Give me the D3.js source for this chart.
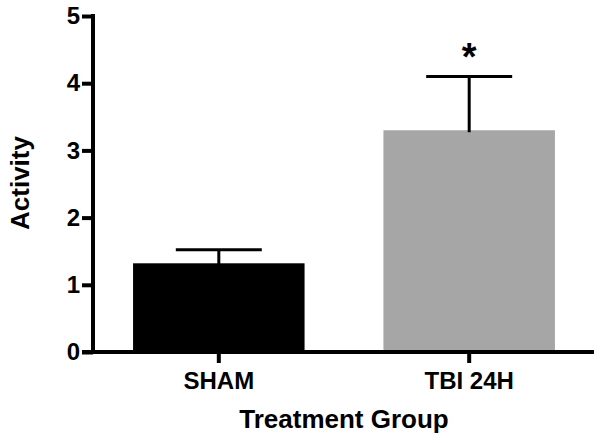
<!DOCTYPE html>
<html>
<head>
<meta charset="utf-8">
<script src="https://cdn.jsdelivr.net/npm/d3@7"></script>
<style>
	body { margin: 0; background: #fff; }
	svg text { font-family: "Liberation Sans", Arial, sans-serif; font-weight: bold; fill: #000; }
</style>
</head>
<body>
<svg id="chart" width="604" height="443"></svg>
<script>
// data
var groups = ["SHAM", "TBI 24H"];
var means = [1.32, 3.30];
var sems = [0.20, 0.80];
var barColors = ["#000000", "#a6a6a6"];
var yTicks = [0, 1, 2, 3, 4, 5];
var significant = [false, true];

var svg = d3.select("#chart");

var x = d3.scaleBand()
	.domain(groups)
	.range([93, 595])
	.paddingInner(0.315)
	.paddingOuter(0.16);

var y = d3.scaleLinear()
	.domain([0, 5])
	.range([352, 16]);

//bars
svg.append("g")
	.selectAll("rect")
	.data(groups)
	.enter()
	.append("rect")
	.attr("x", function(d){ return x(d); })
	.attr("y", function(d, i){ return y(means[i]); })
	.attr("width", x.bandwidth())
	.attr("height", function(d, i){ return y(0) - y(means[i]); })
	.style("fill", function(d, i){ return barColors[i]; });

//error bars (upper only)
var capHalf = 43;
var err = svg.append("g")
	.selectAll("g")
	.data(groups)
	.enter()
	.append("g");
err.append("line")
	.attr("x1", function(d){ return x(d) + x.bandwidth()/2; })
	.attr("x2", function(d){ return x(d) + x.bandwidth()/2; })
	.attr("y1", function(d, i){ return y(means[i]) + 2; })
	.attr("y2", function(d, i){ return y(means[i] + sems[i]); })
	.style("stroke", "#000")
	.style("stroke-width", 3);
err.append("line")
	.attr("x1", function(d){ return x(d) + x.bandwidth()/2 - capHalf; })
	.attr("x2", function(d){ return x(d) + x.bandwidth()/2 + capHalf; })
	.attr("y1", function(d, i){ return y(means[i] + sems[i]); })
	.attr("y2", function(d, i){ return y(means[i] + sems[i]); })
	.style("stroke", "#000")
	.style("stroke-width", 3);

//significance marker
svg.append("g")
	.selectAll("text")
	.data(groups.filter(function(d, i){ return significant[i]; }))
	.enter()
	.append("text")
	.text("*")
	.attr("x", function(d){ return x(d) + x.bandwidth()/2; })
	.attr("y", function(d){ var i = groups.indexOf(d); return y(means[i] + sems[i]) - 6; })
	.style("text-anchor", "middle")
	.style("font-size", "38px");

//axes
var yAxis = svg.append("g")
	.attr("transform", "translate(93,0)")
	.call(d3.axisLeft(y).tickValues(yTicks).tickFormat(d3.format("d")).tickSize(11).tickSizeOuter(0).tickPadding(2));
var xAxis = svg.append("g")
	.attr("transform", "translate(0,352)")
	.call(d3.axisBottom(x).tickSize(11).tickSizeOuter(0).tickPadding(9));

[yAxis, xAxis].forEach(function(ax){
	ax.select(".domain").style("stroke", "#000").style("stroke-width", 4);
	ax.selectAll(".tick line").style("stroke", "#000").style("stroke-width", 4);
	ax.selectAll(".tick text")
		.style("font-family", "'Liberation Sans', Arial, sans-serif")
		.style("font-weight", "bold")
		.style("font-size", "24px")
		.style("fill", "#000");
});
yAxis.select(".domain").attr("d", "M0," + y(0) + "V" + (y(5) - 2));
xAxis.select(".domain").attr("d", "M82,0H594");

//axis titles
svg.append("text")
	.text("Treatment Group")
	.attr("x", 344)
	.attr("y", 428)
	.style("text-anchor", "middle")
	.style("font-size", "26px");

svg.append("text")
	.text("Activity")
	.attr("transform", "translate(29,183) rotate(-90)")
	.style("text-anchor", "middle")
	.style("font-size", "26px");
</script>
</body>
</html>
